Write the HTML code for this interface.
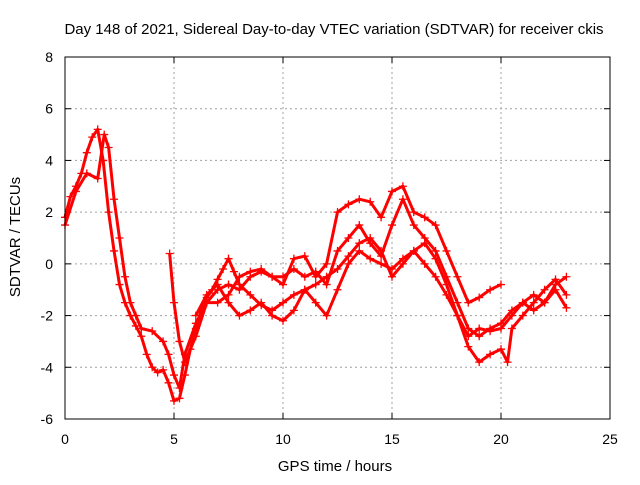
<!DOCTYPE html>
<html><head><meta charset="utf-8"><style>
body{margin:0;background:#fff}
svg text{font-family:"Liberation Sans",sans-serif;fill:#000}
</style></head><body>
<svg id="chart" width="640" height="480" xmlns="http://www.w3.org/2000/svg">
<rect width="640" height="480" fill="#fff"/>
<text x="334" y="34" font-size="15" text-anchor="middle">Day 148 of 2021, Sidereal Day-to-day VTEC variation (SDTVAR) for receiver ckis</text>
<text x="335" y="471" font-size="15" text-anchor="middle">GPS time / hours</text>
<text transform="translate(20,237) rotate(-90)" font-size="15" text-anchor="middle">SDTVAR / TECUs</text>
<g id="grid"></g><g id="ticks"></g><g id="series"></g>
<rect x="65" y="57" width="545" height="362" fill="none" stroke="#000" stroke-width="1"/>
</svg>
<script>
const xTicks=[0,5,10,15,20,25];
const yTicks=[-6,-4,-2,0,2,4,6,8];
const s1t=[0,0.25,0.5,0.75,1,1.25,1.5,1.75,2,2.25,2.5,2.75,3,3.25,3.5,3.75,4,4.25,4.5,4.75,5,5.25,5.5,5.75,6,6.25,6.5,6.75,7,7.25,7.5,7.75,8,8.5,9,9.5,10,10.5,11,11.5,12,12.5,13,13.5,14,14.5,15,15.5,16,16.5,17,17.5,18,18.5,19,19.5,20,20.3,20.5,21,21.5,22,22.5,23];
const s1v=[1.8,2.6,3.0,3.5,4.3,4.9,5.2,4.0,2.0,0.5,-0.8,-1.5,-2.0,-2.4,-2.8,-3.5,-4.0,-4.2,-4.1,-4.6,-5.3,-5.2,-4.3,-3.3,-2.5,-1.8,-1.3,-1.0,-0.6,-0.2,0.2,-0.3,-0.8,-1.2,-1.6,-1.8,-1.5,-1.2,-1.0,-1.5,-2.0,-1.0,0.0,0.5,0.2,0.0,-0.2,0.2,0.5,0.0,-0.5,-1.2,-2.0,-3.2,-3.8,-3.5,-3.3,-3.8,-2.5,-2.0,-1.5,-1.0,-0.6,-1.2];
const s2t=[0,0.5,1,1.5,1.8,2,2.25,2.5,2.75,3,3.25,3.5,4,4.5,4.75,5,5.25,5.5,6,6.5,7,7.5,8,8.5,9,9.5,10,10.5,11,11.5,12,12.5,13,13.5,14,14.5,15,15.5,16,16.5,17,17.5,18,18.5,19,19.5,20,20.5,21,21.5,22,22.5,23];
const s2v=[1.5,2.8,3.5,3.3,5.0,4.5,2.5,1.0,-0.5,-1.5,-2.0,-2.5,-2.6,-3.0,-3.5,-4.3,-4.8,-3.5,-2.3,-1.5,-1.0,-0.8,-1.0,-0.5,-0.3,-0.5,-0.5,-0.2,-0.5,-0.3,-0.8,0.5,1.0,1.5,0.8,0.3,1.5,2.5,1.5,1.0,0.5,-0.5,-1.5,-2.5,-2.8,-2.5,-2.3,-1.8,-1.5,-1.2,-1.5,-1.0,-1.7];
const s3t=[4.8,5,5.25,5.5,6,6.5,7,7.5,8,8.5,9,9.5,10,10.5,11,11.5,12,12.5,13,13.5,14,14.5,15,15.5,16,16.5,17,17.5,18,18.5,19,19.5,20];
const s3v=[0.4,-1.5,-3.0,-3.8,-2.8,-1.5,-1.5,-1.2,-0.5,-0.3,-0.2,-0.5,-0.8,0.2,0.3,-0.5,0.0,2.0,2.3,2.5,2.4,1.8,2.8,3.0,2.0,1.8,1.5,0.5,-0.5,-1.5,-1.3,-1.0,-0.8];
const s4t=[6,6.5,7,7.5,8,8.5,9,9.5,10,10.5,11,11.5,12,12.5,13,13.5,14,14.5,15,15.5,16,16.5,17,17.5,18,18.5,19,19.5,20,20.5,21,21.5,22,22.5,23];
const s4v=[-2.0,-1.2,-0.8,-1.5,-2.0,-1.8,-1.5,-2.0,-2.2,-1.8,-1.0,-0.8,-0.5,-0.2,0.3,0.8,1.0,0.5,-0.5,0.0,0.5,0.8,0.2,-0.8,-2.0,-2.8,-2.5,-2.6,-2.5,-2.0,-1.5,-1.8,-1.5,-0.8,-0.5];
const allT=[s1t,s2t,s3t,s4t], allV=[s1v,s2v,s3v,s4v];
const X0=65,X1=610,Y0=419,Y1=57;
const xs=v=>X0+(v-0)/(25-0)*(X1-X0);
const ys=v=>Y0-(v+6)/(8+6)*(Y0-Y1);
const NS="http://www.w3.org/2000/svg";
const mk=(tag,attrs,parent)=>{const e=document.createElementNS(NS,tag);for(const k in attrs)e.setAttribute(k,attrs[k]);parent.appendChild(e);return e;};
const grid=document.getElementById('grid'),ticks=document.getElementById('ticks'),ser=document.getElementById('series');
xTicks.forEach(t=>{const x=xs(t);
 if(t>0&&t<25){const g=mk('line',{x1:x,x2:x,y1:Y0,y2:Y1,stroke:'#a0a0a0','stroke-dasharray':'2,3'},grid);
 
 }
 const l=mk('text',{x:x,y:Y0+25,'font-size':14,'text-anchor':'middle'},ticks);l.textContent=t;
 
 
 mk('line',{x1:x,x2:x,y1:Y0,y2:Y0-6,stroke:'#000'},ticks);mk('line',{x1:x,x2:x,y1:Y1,y2:Y1+6,stroke:'#000'},ticks);
});
yTicks.forEach(t=>{const y=ys(t);
 if(t>-6&&t<8){const g=mk('line',{x1:X0,x2:X1,y1:y,y2:y,stroke:'#a0a0a0','stroke-dasharray':'2,3'},grid);
 
 }
 const l=mk('text',{x:X0-12,y:y+5,'font-size':14,'text-anchor':'end'},ticks);l.textContent=t;
 
 
 mk('line',{x1:X0,x2:X0+6,y1:y,y2:y,stroke:'#000'},ticks);mk('line',{x1:X1,x2:X1-6,y1:y,y2:y,stroke:'#000'},ticks);
});
allT.forEach((T,i)=>{const V=allV[i];
 const g=mk('g',{},ser);
 
 
 mk('polyline',{points:T.map((t,j)=>xs(t)+','+ys(V[j])).join(' '),fill:'none',stroke:'#f00','stroke-width':3,'stroke-linejoin':'round'},g);
 let d='';T.forEach((t,j)=>{const x=xs(t),y=ys(V[j]);d+=`M${x-4},${y}h8M${x},${y-4}v8`;});
 mk('path',{d:d,stroke:'#f00','stroke-width':1.3,fill:'none'},g);
});
</script>
</body></html>
